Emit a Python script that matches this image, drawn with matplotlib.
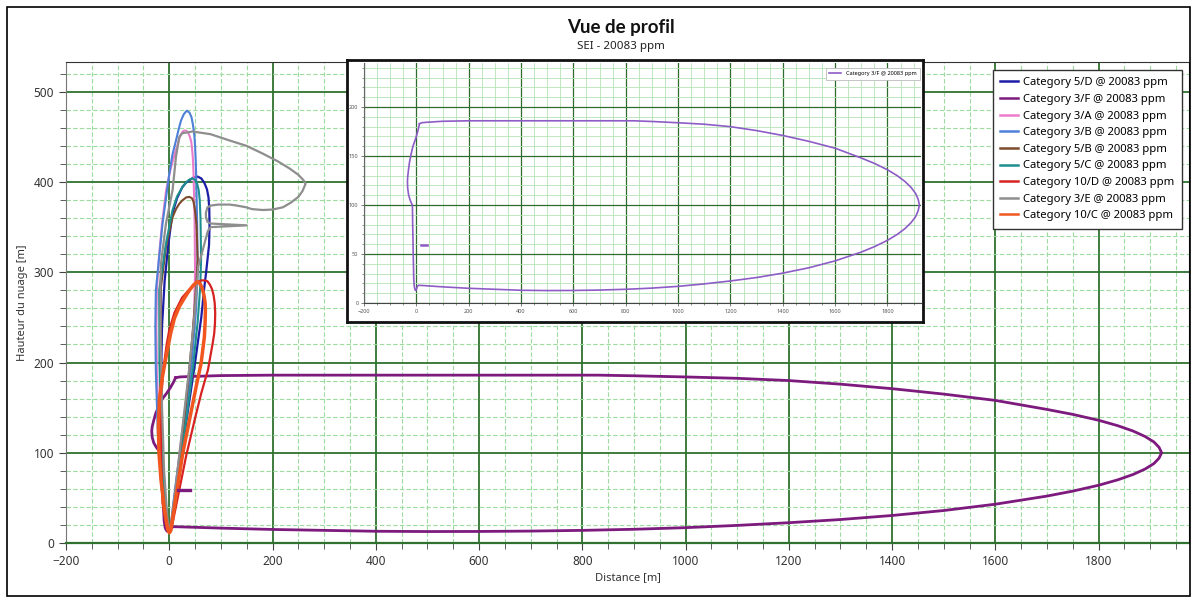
import matplotlib
matplotlib.use('Agg')
import matplotlib.pyplot as plt
from matplotlib.ticker import MultipleLocator
from matplotlib.patches import Rectangle

plt.rcParams['font.family'] = ['Noto Sans', 'DejaVu Sans']

# ---------------- data ----------------
title = "Vue de profil"
subtitle = "SEI - 20083 ppm"
xlabel = "Distance [m]"
ylabel = "Hauteur du nuage [m]"

labels = ["Category 5/D @ 20083 ppm", "Category 3/F @ 20083 ppm", "Category 3/A @ 20083 ppm",
          "Category 3/B @ 20083 ppm", "Category 5/B @ 20083 ppm", "Category 5/C @ 20083 ppm",
          "Category 10/D @ 20083 ppm", "Category 3/E @ 20083 ppm", "Category 10/C @ 20083 ppm"]

cat_5D_x = [0, -4, -10, -15, -16, -14, -9, -2, 6, 15, 25, 32, 39, 47, 55, 62, 68, 73, 76, 77.5, 78, 77, 74, 71, 68, 62, 50, 37, 24, 12, 4, 1, 0]
cat_5D_y = [12, 25, 60, 120, 180, 240, 290, 330, 365, 382, 394, 399, 402, 405, 406, 404, 399, 392, 383, 370, 351, 330, 314, 298, 284, 250, 200, 150, 100, 50, 20, 13, 12]

cat_3F_x = [12, 8, 2, -5, -13, -20, -26, -30, -33, -34, -33, -30, -26, -23, -18, -15, -14, -12, -10, -8, -6, -4, -2, 0, 2, 4, 8, 15,
            100, 200, 300, 400, 500, 600, 700, 800, 900, 1000, 1100, 1200, 1300, 1400, 1500, 1600, 1700,
            1750, 1800, 1837, 1867, 1890, 1907, 1917, 1922, 1917, 1907, 1890, 1867, 1837, 1800, 1750, 1700, 1600,
            1500, 1400, 1300, 1200, 1100, 1000, 900, 830, 600, 400, 200, 100, 40, 20, 12]
cat_3F_y = [183, 178, 172, 166, 160, 152, 144, 136, 129, 124, 117, 111, 107, 104.5, 101.5, 100, 80, 50, 25, 17, 14.5, 13, 13, 14, 15.5, 17, 18, 18,
            16.5, 15, 14, 13, 12.7, 12.8, 13.2, 14, 15.2, 17, 19.5, 22.5, 26, 30.5, 36, 43, 52,
            57.5, 64, 70, 76, 82, 88, 94, 100, 106, 112, 118, 124, 130, 136, 142.5, 148, 158,
            165, 171, 176, 180, 182.5, 184, 185.3, 186, 186, 186, 186, 185.5, 184.5, 184, 183]
cat_3F_dash_x = [17, 40]
cat_3F_dash_y = [59, 59]

cat_3A_x = [0, -5, -13, -20, -24, -25, -24, -20, -14, -6, 2, 10, 17, 19, 23, 26, 29, 33, 37, 40, 42.5, 44, 45.5, 47, 49, 50, 48, 41, 31, 21, 12, 5, 1, 0]
cat_3A_y = [12, 25, 60, 120, 190, 240, 280, 317, 354, 391, 413, 430, 443, 448, 453, 456, 457, 457, 454, 450, 445, 438, 428, 410, 360, 300, 250, 200, 150, 105, 60, 25, 13, 12]

cat_3B_x = [0, -6, -15, -22, -26, -27, -26, -19.5, -13, 0, 6, 13, 18, 22.7, 28, 33.7, 39, 43, 46, 48.5, 50, 51.5, 52, 54, 55, 52, 45, 35, 25, 16, 8, 3, 1, 0]
cat_3B_y = [12, 25, 60, 120, 190, 240, 280, 317, 354, 409, 430, 446, 458, 468, 475, 479, 477, 472, 463, 452, 440, 420, 409, 354, 300, 260, 210, 155, 115, 81, 45, 20, 13, 12]

cat_5B_x = [0, -4, -10, -15, -17, -16, -6.4, 6.4, 13, 19.5, 26, 33, 39, 44, 47, 49.5, 51.5, 53, 55, 52, 45, 35, 25, 15, 7, 2, 0]
cat_5B_y = [12, 25, 60, 120, 200, 284, 328, 361, 370, 376, 380, 383, 383.5, 382, 378, 370, 360, 350, 314, 284, 230, 170, 115, 65, 30, 14, 12]

cat_5C_x = [0, -4, -11, -16, -19, -19.5, -6.4, 6.4, 15, 26, 35, 40, 45, 50, 54, 57, 59, 60.5, 61.6, 60, 55, 46, 35, 24, 13, 5, 1, 0]
cat_5C_y = [12, 25, 60, 120, 200, 280, 332, 369, 384, 395, 401, 403, 404, 402.5, 398, 391, 380, 360, 314, 284, 245, 195, 145, 100, 55, 22, 13, 12]

cat_10D_x = [0, -6, -13, -16, -16, -12, -5, 0, 10, 25, 39, 48, 55, 62, 68, 74, 79, 83, 86, 88, 89, 88.5, 87, 84, 75, 62, 49, 32.5, 19.5, 6.4, 3, 0]
cat_10D_y = [12, 20, 44, 100, 155, 190, 220, 236, 255, 272, 281, 286, 289, 291, 291, 290, 286, 281, 274, 266, 255, 243, 232, 221, 192, 166, 136, 96, 59, 22, 13, 12]

cat_3E_x = [0, -4, -10, -14, -17, -17, -16, -6.4, 6.4, 13, 19.5, 25, 45, 80, 117, 150, 181, 210, 233, 250,
            260, 264, 258, 250, 235, 220, 200, 181, 160, 149, 130, 117, 95, 81, 74, 71, 71, 74, 80, 150,
            80, 75, 72, 65, 56, 50, 40, 30, 20, 10, 3, 0]
cat_3E_y = [12, 30, 80, 150, 230, 290, 310, 354, 391, 428, 450, 454, 456, 453, 446, 440, 431.5, 423, 415, 408,
            402, 398, 390, 383.5, 377, 372, 369.5, 369, 370, 372, 374, 375, 375, 374, 372, 366, 361, 356, 354, 352,
            350, 346, 340, 325, 306, 260, 200, 150, 100, 50, 20, 12]

cat_10C_x = [0, -3, -10, -16, -20, -21, -19, -13, -5, 3, 10, 19.5, 30, 39, 47, 55, 60, 64, 67, 69.5, 70, 69.5, 68, 61.6, 52, 39, 26, 13, 3, 0]
cat_10C_y = [12, 15, 40, 70, 100, 130, 160, 185, 210, 233, 249, 262, 272, 280, 286, 289.7, 287, 282, 275, 266, 258, 245, 228.5, 199, 173, 136, 99, 51, 14, 12]

inset_label = "Category 3/F @ 20083 ppm"

# ---------------- style ----------------
colors = ["#1c1ca6", "#7d1a7d", "#ea7ccb", "#4f80d8", "#7e4a2c", "#1e8f8f", "#d62222", "#8e8e8e", "#f0561e"]
widths = [1.6, 2.0, 1.5, 1.5, 1.5, 1.5, 1.6, 1.6, 2.5]
series = [(cat_5D_x, cat_5D_y), (cat_3F_x, cat_3F_y), (cat_3A_x, cat_3A_y), (cat_3B_x, cat_3B_y),
          (cat_5B_x, cat_5B_y), (cat_5C_x, cat_5C_y), (cat_10D_x, cat_10D_y), (cat_3E_x, cat_3E_y),
          (cat_10C_x, cat_10C_y)]

MAJ = "#2f722f"
MIN = "#9edb9e"

W, H = 1192, 597
def box(l, t, r, b):
    return [l / W, 1 - b / H, (r - l) / W, (b - t) / H]

fig = plt.figure(figsize=(W / 100, H / 100), dpi=100)
fig.patch.set_facecolor("white")
fig.add_artist(Rectangle((7 / W, 1 / H), (1190 - 7) / W, (596 - 7) / H, transform=fig.transFigure,
                         fill=False, edgecolor="black", linewidth=1.2))

ax = fig.add_axes(box(66, 62, 1189, 543))
for (xs, ys), c, lw, lab in zip(series, colors, widths, labels):
    ax.plot(xs, ys, color=c, lw=lw, label=lab, solid_joinstyle='round')
ax.plot(cat_3F_dash_x, cat_3F_dash_y, color=colors[1], lw=2.4)

ax.set_xlim(-200, 1975)
ax.set_ylim(0, 533)
ax.xaxis.set_major_locator(MultipleLocator(200))
ax.xaxis.set_minor_locator(MultipleLocator(50))
ax.yaxis.set_major_locator(MultipleLocator(100))
ax.yaxis.set_minor_locator(MultipleLocator(20))
ax.grid(which='major', color=MAJ, lw=1.3, ls='-')
ax.grid(which='minor', color=MIN, lw=0.8, ls=(0, (4, 2)))
ax.set_axisbelow(True)
ax.tick_params(which='both', direction='out', color="#444444", labelsize=8.5, labelcolor="#333333")
ax.tick_params(which='major', length=5)
ax.tick_params(which='minor', length=4)
ax.spines['left'].set_color("#777777")
ax.spines['bottom'].set_color(MAJ)
ax.spines['bottom'].set_linewidth(1.6)
ax.spines['top'].set_color("#333333")
ax.spines['right'].set_color("#333333")
ax.set_xlabel(xlabel, fontsize=8, color="#333333", labelpad=3)
ax.set_ylabel(ylabel, fontsize=8, color="#333333", labelpad=4)

leg = ax.legend(loc='upper right', bbox_to_anchor=(1182 / W, 1 - 70 / H), bbox_transform=fig.transFigure,
                borderaxespad=0, fontsize=8.1, frameon=True, fancybox=False, framealpha=1,
                edgecolor="#333333", handlelength=1.6, labelspacing=0.5, handletextpad=0.45,
                borderpad=0.65)
leg.get_frame().set_linewidth(1.0)
for h in leg.get_lines():
    h.set_linewidth(1.8)

fig.text(621 / W, 1 - 27 / H, title, ha='center', va='center', fontsize=13.5, fontweight='bold',
         family=['Lato', 'DejaVu Sans'], color="#111111")
fig.text(621 / W, 1 - 47 / H, subtitle, ha='center', va='center', fontsize=8.3, color="#222222")

# ---------------- inset ----------------
frame = fig.add_axes(box(347, 60, 923, 322))
frame.set_facecolor("white")
frame.set_xticks([]); frame.set_yticks([])
for s in frame.spines.values():
    s.set_linewidth(2.0)
    s.set_color("#111111")

ins = fig.add_axes(box(364, 63, 921, 303))
ins.set_facecolor("white")
ins.plot(cat_3F_x, cat_3F_y, color="#8d5cc6", lw=1.2, label=inset_label)
ins.plot(cat_3F_dash_x, cat_3F_dash_y, color="#8d5cc6", lw=1.8)
ins.set_xlim(-200, 1928)
ins.set_ylim(0, 245)
ins.xaxis.set_major_locator(MultipleLocator(200))
ins.xaxis.set_minor_locator(MultipleLocator(50))
ins.yaxis.set_major_locator(MultipleLocator(50))
ins.yaxis.set_minor_locator(MultipleLocator(10))
ins.grid(which='major', color="#2f6a2f", lw=0.9)
ins.grid(which='minor', color="#b4e4b4", lw=0.6)
ins.set_axisbelow(True)
ins.tick_params(which='both', direction='out', color="#666666", labelsize=4, labelcolor="#555555", pad=1.5)
ins.tick_params(which='major', length=2.5, width=0.6)
ins.tick_params(which='minor', length=1.5, width=0.5)
ins.spines['left'].set_color("#666666")
ins.spines['bottom'].set_color("#444444")
ins.spines['top'].set_visible(False)
ins.spines['right'].set_visible(False)
il = ins.legend(loc='upper right', bbox_to_anchor=(920 / W, 1 - 68 / H), bbox_transform=fig.transFigure,
                borderaxespad=0, fontsize=4, fancybox=False, framealpha=1, edgecolor="#bbbbbb",
                handlelength=2.2, borderpad=0.6)
il.get_frame().set_linewidth(0.6)

fig.savefig("out.png", dpi=100, facecolor="white")
